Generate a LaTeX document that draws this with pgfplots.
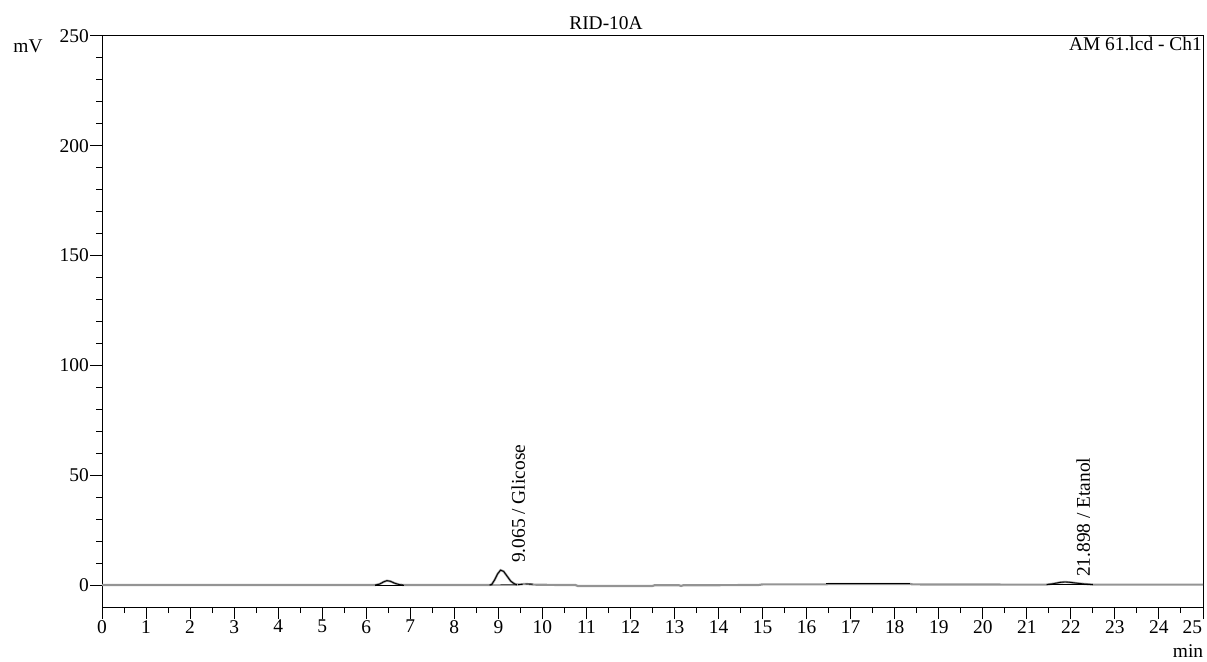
\documentclass[border=0pt]{standalone}
\usepackage{pgfplots}
\pgfplotsset{compat=1.18}
\usepackage{fontspec}
\setmainfont{Liberation Serif}
\newcommand{\fs}{\fontsize{19.5}{21}\selectfont}
\definecolor{trace}{gray}{0.58}
\begin{document}
\begin{tikzpicture}
\useasboundingbox (-102bp,-55bp) rectangle (1105bp,607bp);
\begin{axis}[
  at={(0,0)}, anchor=south west,
  scale only axis, width=1101bp, height=571bp,
  xmin=0, xmax=25, ymin=-10, ymax=250,
  xtick={0,1,...,25}, minor x tick num=1,
  xticklabels={0,1,2,3,4,5,6,7,8,9,10,11,12,13,14,15,16,17,18,19,20,21,22,23,24,\makebox[0pt][r]{25\hspace{1bp}}},
  ytick={0,50,...,250}, minor y tick num=4,
  tick align=outside, tick pos=left,
  major tick length=12bp, minor tick length=6bp,
  axis line style={black, line width=1bp},
  every tick/.style={black, line width=1bp},
  /pgf/number format/assume math mode=true,
  ticklabel style={font=\fs, text=black},
  yticklabel style={inner sep=1bp},
  xticklabel style={inner sep=1bp},
  clip=true,
]
% chromatogram trace (gray)
\addplot[trace, line width=2.2bp] coordinates {
(0,0) (6.2,0) (6.3,0.4) (6.4,1.5) (6.47,2.0) (6.55,1.7) (6.65,0.8) (6.75,0.2) (6.85,0)
(8.8,0) (8.85,0.3) (8.92,2.5) (8.98,5.0) (9.05,6.8) (9.12,6.2) (9.2,4.0) (9.28,1.8) (9.36,0.6) (9.42,0.2)
(9.5,0.3) (9.6,0.5) (9.7,0.4) (9.8,0.2) (10.0,0.1) (10.75,0) (10.8,-0.4) (12.5,-0.4) (12.55,-0.1)
(13.1,-0.1) (13.15,-0.4) (13.2,-0.1) (14.9,0) (15.0,0.3) (16.45,0.3) (16.5,0.5) (18.35,0.5) (18.4,0.3)
(20.4,0.2) (21.45,0.2) (21.6,0.6) (21.75,1.2) (21.87,1.4) (22.0,1.2) (22.15,0.8) (22.3,0.5) (22.5,0.2) (25,0.2)
};
% peak outlines (black)
\addplot[black, line width=0.9bp] coordinates {
(6.2,0) (6.3,0.4) (6.4,1.5) (6.47,2.0) (6.55,1.7) (6.65,0.8) (6.75,0.2) (6.85,0)
};
\addplot[black, line width=0.9bp] coordinates {(6.2,0) (6.85,0)};
\addplot[black, line width=0.9bp] coordinates {
(8.8,0) (8.85,0.3) (8.92,2.5) (8.98,5.0) (9.05,6.8) (9.12,6.2) (9.2,4.0) (9.28,1.8) (9.36,0.6) (9.42,0.2)
};
\addplot[black, line width=0.9bp] coordinates {(8.8,0) (9.42,0.1)};
\addplot[black, line width=0.9bp] coordinates {(9.45,0.2) (9.55,0.3)};
\addplot[black, line width=0.9bp] coordinates {(9.62,0.5) (9.78,0.4)};
\addplot[black, line width=0.9bp] coordinates {(16.45,0.5) (18.35,0.5)};
\addplot[black, line width=0.9bp] coordinates {
(21.45,0.2) (21.6,0.6) (21.75,1.2) (21.87,1.4) (22.0,1.2) (22.15,0.8) (22.3,0.5) (22.5,0.2)
};
\addplot[black, line width=0.9bp] coordinates {(21.45,0.2) (22.5,0.2)};
% peak labels
\node[rotate=90, anchor=west, font=\fs, inner sep=0pt] at (axis cs:9.45,10) {9.065 / Glicose};
\node[rotate=90, anchor=west, font=\fs, inner sep=0pt] at (axis cs:22.28,3.6) {21.898 / Etanol};
\node[anchor=north east, font=\fs, inner sep=1bp] at (rel axis cs:1,1) {AM 61.lcd - Ch1};
\end{axis}
\node[font=\fs] at (504bp,584bp) {RID-10A};
\node[font=\fs] at (-74bp,561bp) {mV};
\node[font=\fs] at (1086bp,-44bp) {min};
\end{tikzpicture}
\end{document}
